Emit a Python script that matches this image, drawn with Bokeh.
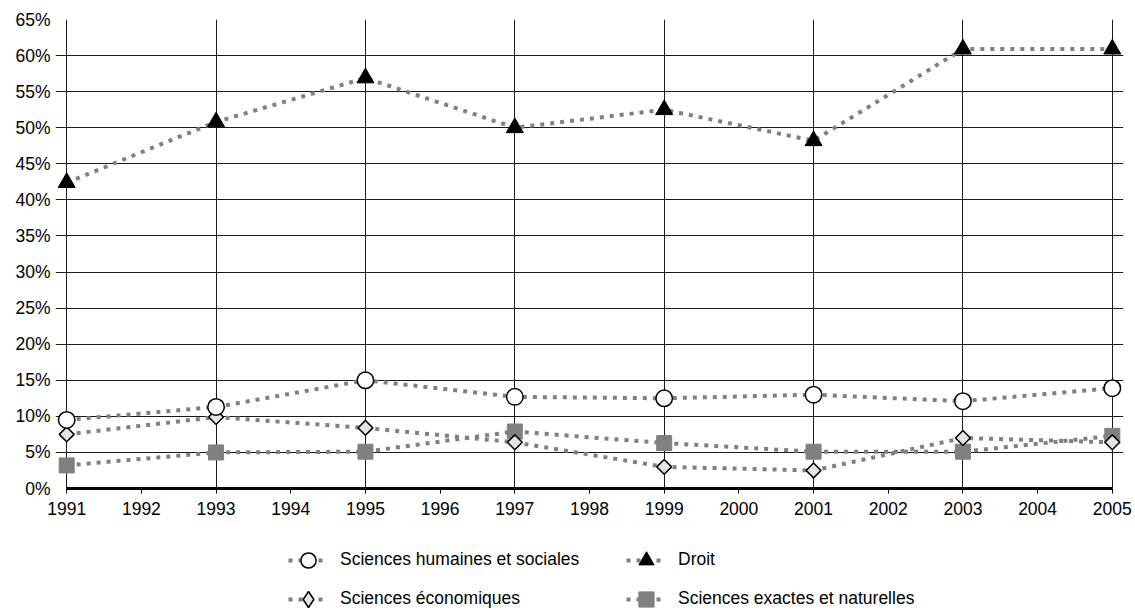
import numpy as np
from bokeh.plotting import figure
from bokeh.layouts import column
from bokeh.models import (Range1d, FixedTicker, PrintfTickFormatter, Legend,
                          LegendItem, ColumnDataSource)
from bokeh.embed import file_html
from bokeh.resources import INLINE

years = [1991, 1993, 1995, 1997, 1999, 2001, 2003, 2005]
sciences_humaines = [9.5, 11.3, 15.0, 12.7, 12.5, 13.0, 12.1, 13.9]
droit = [42.4, 50.8, 56.9, 50.0, 52.5, 48.2, 60.9, 60.9]
sciences_eco = [7.5, 9.9, 8.4, 6.4, 3.0, 2.5, 7.0, 6.4]
sciences_exactes = [3.2, 5.0, 5.1, 7.9, 6.3, 5.1, 5.1, 7.3]
series_labels = ["Sciences humaines et sociales", "Droit",
                 "Sciences économiques", "Sciences exactes et naturelles"]
x_ticks = list(range(1991, 2006))
y_ticks = list(range(0, 70, 5))

FONT = "Liberation Sans"
FSIZE = "17.5px"
LINE = "#808080"
PAD = 0.15  # small margin so edge markers are not cut by the frame

x0, x1 = x_ticks[0], x_ticks[-1]
p = figure(width=1135, height=530, x_range=Range1d(x0 - PAD, x1 + PAD),
           y_range=Range1d(0, 65),
           output_backend="svg", toolbar_location=None,
           min_border_left=55, min_border_right=12, min_border_top=19, min_border_bottom=42)
p.background_fill_color = "white"
p.border_fill_color = "white"
p.outline_line_color = None

p.xaxis.ticker = FixedTicker(ticks=x_ticks)
p.yaxis.ticker = FixedTicker(ticks=y_ticks)
p.yaxis.formatter = PrintfTickFormatter(format="%d%%")
p.xaxis.bounds = (x0, x1)
p.xgrid.ticker = FixedTicker(ticks=years)
p.ygrid.ticker = FixedTicker(ticks=y_ticks)
# horizontal grid lines start 7px left of the 1991 line: they act as the y ticks
p.ygrid.bounds = (x0 - 0.094, x1)
for g in (p.xgrid, p.ygrid):
    g.grid_line_color = "#1a1a1a"
    g.grid_line_width = 1

for ax in (p.xaxis, p.yaxis):
    ax.major_label_text_font = FONT
    ax.major_label_text_font_size = FSIZE
    ax.major_label_text_color = "black"
    ax.minor_tick_line_color = None
p.xaxis.axis_line_color = "black"
p.xaxis.axis_line_width = 3
p.xaxis.major_tick_line_color = "black"
p.xaxis.major_tick_line_width = 1
p.xaxis.major_tick_in = 0
p.xaxis.major_tick_out = 5
p.xaxis.major_label_standoff = 8
p.yaxis.axis_line_color = None
p.yaxis.major_tick_line_color = None
p.yaxis.major_tick_in = 0
p.yaxis.major_tick_out = 0
p.yaxis.major_label_standoff = 5

dash = dict(line_color=LINE, line_width=4, line_dash="4 6", line_cap="butt")
l_shs = p.line(years, sciences_humaines, **dash)
l_dr = p.line(years, droit, **dash)
l_eco = p.line(years, sciences_eco, **dash)
l_ex = p.line(years, sciences_exactes, **dash)

m_ex = p.scatter(years, sciences_exactes, marker="square", size=15,
                 fill_color=LINE, line_color=LINE)
m_eco = p.scatter(years, sciences_eco, marker="square", angle=np.pi / 4, size=10.5,
                  fill_color="#e4e4e4", line_color="black", line_width=1.5)
m_shs = p.scatter(years, sciences_humaines, marker="circle", size=16.5,
                  fill_color="white", line_color="black", line_width=1.5)
m_dr = p.scatter(years, droit, marker="triangle", size=17,
                 fill_color="black", line_color="black")

# ---- legend strip (separate figure below the chart, frames aligned) ----
q = figure(width=1135, height=80, x_range=Range1d(0, 1), y_range=Range1d(0, 1),
           output_backend="svg", toolbar_location=None,
           x_axis_type=None, y_axis_type=None,
           min_border_left=0, min_border_right=0, min_border_top=0, min_border_bottom=0)
q.outline_line_color = None
q.grid.visible = False
q.background_fill_color = "white"
q.border_fill_color = "white"

# legend sample glyphs: one undefined (NaN) point so nothing is drawn in the strip
blank = ColumnDataSource(data=dict(x=[np.nan], y=[np.nan]))
lg_line = q.line("x", "y", source=blank, **dash)
lg_shs = q.scatter("x", "y", source=blank, marker="circle",
                   fill_color="white", line_color="black", line_width=1.5)
lg_dr = q.scatter("x", "y", source=blank, marker="triangle",
                  fill_color="black", line_color="black")
lg_eco = q.scatter("x", "y", source=blank, marker="diamond",
                   fill_color="#e4e4e4", line_color="black", line_width=1.5)
lg_ex = q.scatter("x", "y", source=blank, marker="square",
                  fill_color=LINE, line_color=LINE)


def make_legend(label, rends, x, row_center, h):
    bottom = 610 - (row_center + h / 2.0)
    return Legend(items=[LegendItem(label=label, renderers=rends)],
                  location=(x, bottom),
                  label_text_font=FONT, label_text_font_size=FSIZE,
                  label_text_color="black", border_line_color=None,
                  background_fill_alpha=0, glyph_width=40, glyph_height=h,
                  label_height=h, label_standoff=12, padding=0, margin=0, spacing=0)


ROW1, ROW2 = 559.5, 598.5
COL1, COL2 = 233, 571
q.add_layout(make_legend(series_labels[0], [lg_line, lg_shs], COL1, ROW1, 38))
q.add_layout(make_legend(series_labels[1], [lg_line, lg_dr], COL2, ROW1, 38))
q.add_layout(make_legend(series_labels[2], [lg_line, lg_eco], COL1, ROW2, 42))
q.add_layout(make_legend(series_labels[3], [lg_line, lg_ex], COL2, ROW2, 38))

layout = column(p, q, spacing=0)
open("out.html", "w").write(file_html(layout, INLINE))
